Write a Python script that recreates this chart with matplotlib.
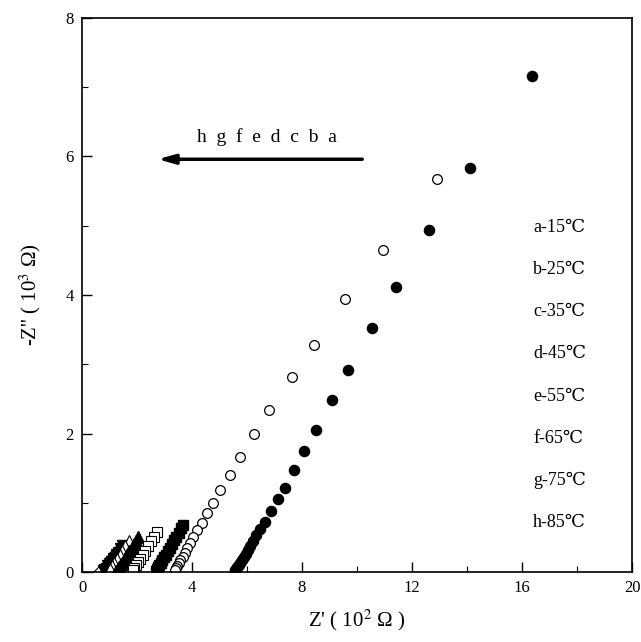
import numpy as np
import matplotlib.pyplot as plt
from matplotlib.ticker import MultipleLocator

plt.rcParams['font.family'] = ['Liberation Serif', 'DejaVu Serif', 'DejaVu Sans']
plt.rcParams['mathtext.fontset'] = 'stix'

# Nyquist data, Z' in 10^2 ohm, -Z'' in 10^3 ohm
a_x = [16.35, 14.12, 12.62, 11.42, 10.53, 9.66, 9.09, 8.51, 8.08, 7.71, 7.39, 7.14, 6.86,
       6.65, 6.47, 6.33, 6.22, 6.12, 6.03, 5.95, 5.88, 5.81, 5.75, 5.70, 5.65, 5.61, 5.58, 5.56]
a_y = [7.16, 5.84, 4.94, 4.11, 3.52, 2.91, 2.48, 2.05, 1.75, 1.47, 1.22, 1.05, 0.88,
       0.72, 0.62, 0.53, 0.45, 0.38, 0.32, 0.26, 0.21, 0.17, 0.13, 0.10, 0.07, 0.05, 0.03, 0.02]
b_x = [12.92, 10.93, 9.58, 8.44, 7.62, 6.81, 6.27, 5.75, 5.37, 5.03, 4.77, 4.53, 4.35,
       4.17, 4.05, 3.93, 3.83, 3.74, 3.66, 3.58, 3.52, 3.46, 3.41, 3.37]
b_y = [5.67, 4.65, 3.94, 3.28, 2.82, 2.34, 2.00, 1.66, 1.40, 1.18, 0.99, 0.85, 0.71,
       0.60, 0.51, 0.42, 0.35, 0.28, 0.22, 0.17, 0.13, 0.09, 0.06, 0.03]
c_x = [3.68, 3.60, 3.52, 3.43, 3.36, 3.28, 3.20, 3.12, 3.05, 2.98, 2.92, 2.86, 2.81, 2.76, 2.72, 2.69]
c_y = [0.68, 0.63, 0.57, 0.51, 0.46, 0.40, 0.35, 0.30, 0.25, 0.21, 0.17, 0.13, 0.10, 0.07, 0.04, 0.02]
d_x = [2.71, 2.60, 2.50, 2.40, 2.30, 2.20, 2.11, 2.03, 1.96, 1.90, 1.85]
d_y = [0.58, 0.51, 0.45, 0.38, 0.31, 0.25, 0.19, 0.14, 0.10, 0.06, 0.03]
e_x = [2.05, 1.96, 1.88, 1.80, 1.72, 1.64, 1.56, 1.48, 1.41, 1.35, 1.29, 1.24]
e_y = [0.50, 0.45, 0.40, 0.35, 0.30, 0.25, 0.20, 0.15, 0.11, 0.07, 0.04, 0.02]
f_x = [1.70, 1.58, 1.47, 1.37, 1.27, 1.18, 1.10, 1.03]
f_y = [0.45, 0.38, 0.31, 0.25, 0.19, 0.13, 0.08, 0.04]
g_x = [1.50, 1.42, 1.34, 1.26, 1.18, 1.10, 1.03, 0.96, 0.90, 0.84, 0.79]
g_y = [0.38, 0.33, 0.28, 0.24, 0.19, 0.15, 0.11, 0.08, 0.05, 0.03, 0.01]
h_x = [1.30, 1.18, 1.07, 0.97, 0.88, 0.79, 0.70, 0.62]
h_y = [0.32, 0.26, 0.20, 0.14, 0.09, 0.05, 0.02, 0.00]

labels = ['a-15℃', 'b-25℃', 'c-35℃', 'd-45℃', 'e-55℃', 'f-65℃', 'g-75℃', 'h-85℃']

fig = plt.figure(figsize=(6.41, 6.42), dpi=100)
ax = fig.add_axes([0.128, 0.109, 0.858, 0.863])

ax.plot(h_x, h_y, 'D', ms=6, mfc='white', mec='black', mew=0.8, ls='none')
ax.plot(g_x, g_y, 'v', ms=8, color='black', ls='none')
ax.plot(f_x, f_y, '^', ms=8, mfc='white', mec='black', mew=0.8, ls='none')
ax.plot(e_x, e_y, '^', ms=8, color='black', ls='none')
ax.plot(d_x, d_y, 's', ms=7, mfc='white', mec='black', mew=0.8, ls='none')
ax.plot(c_x, c_y, 's', ms=7, color='black', ls='none')
ax.plot(b_x, b_y, 'o', ms=7, mfc='white', mec='black', mew=0.9, ls='none')
ax.plot(a_x, a_y, 'o', ms=7.3, color='black', ls='none')

ax.set_xlim(0, 20)
ax.set_ylim(0, 8)
ax.xaxis.set_major_locator(MultipleLocator(4))
ax.xaxis.set_minor_locator(MultipleLocator(2))
ax.yaxis.set_major_locator(MultipleLocator(2))
ax.yaxis.set_minor_locator(MultipleLocator(1))
ax.tick_params(which='both', direction='in', top=False, right=False, labelsize=12)
ax.tick_params(which='major', length=7, width=1, pad=6)
ax.tick_params(which='minor', length=4, width=0.8)
for s in ax.spines.values():
    s.set_linewidth(1.2)

ax.set_xlabel("Z' ( 10$^2$ Ω )", fontsize=15, labelpad=8)
ax.set_ylabel("-Z'' ( 10$^3$ Ω)", fontsize=15, labelpad=16)

# arrow with series letters
ax.annotate('', xy=(2.65, 5.96), xytext=(10.29, 5.96),
            arrowprops=dict(arrowstyle='-|>,head_length=1.0,head_width=0.28',
                            lw=2.5, color='black'))
ax.text(6.73, 6.28, 'h  g  f  e  d  c  b  a', ha='center', va='center', fontsize=14)

for i, lab in enumerate(labels):
    ax.text(16.4, 4.98 - i * 0.61, lab, ha='left', va='center', fontsize=13)

fig.savefig('out.png', dpi=100)
